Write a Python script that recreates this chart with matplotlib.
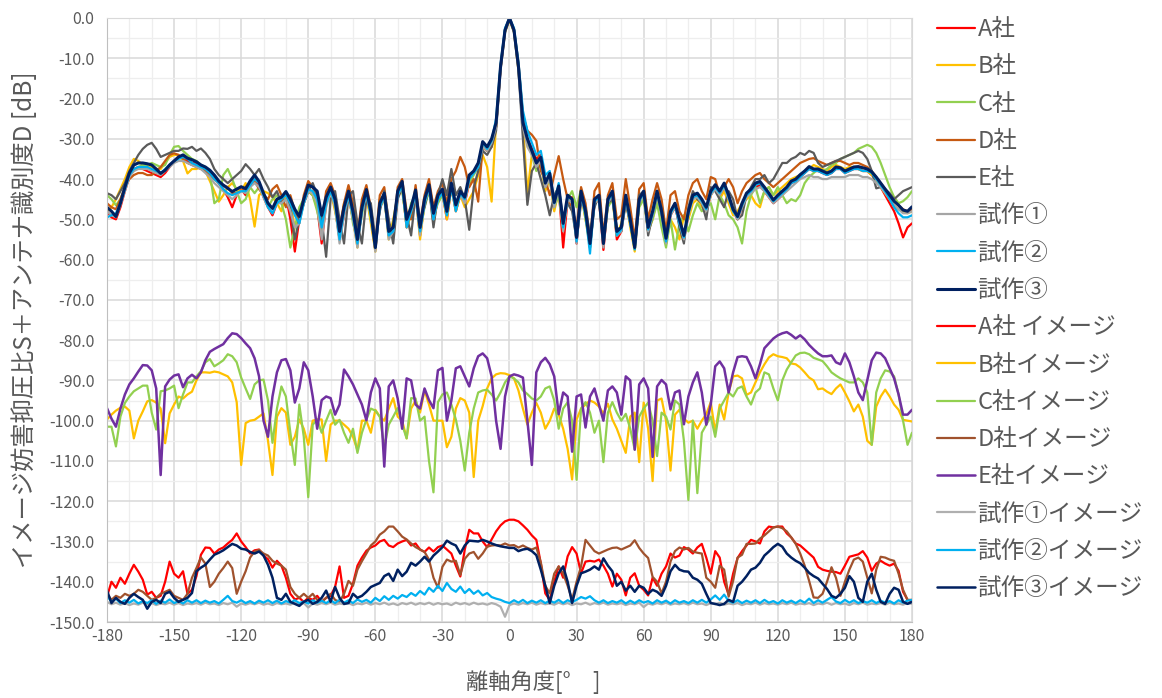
import numpy as np
import matplotlib.pyplot as plt
from matplotlib.ticker import MultipleLocator, FuncFormatter

plt.rcParams['font.family'] = ['Noto Sans CJK JP', 'DejaVu Sans']
plt.rcParams['axes.unicode_minus'] = False

# off-axis angle [deg], 2 degree steps
angles = np.arange(-180, 181, 2)

# --- co-polar patterns (S + D) ---
a_sha = [
    -48, -49.5, -50, -47, -43, -39.5, -37.5, -37, -37.5, -38,
    -38.5, -39, -39.5, -38.5, -37, -35.5, -34.5, -34.5, -35.5, -36,
    -36, -36.5, -37.5, -38.5, -39.5, -41, -42.5, -44.5, -47, -44,
    -42.5, -44, -41.5, -40, -41.5, -44.5, -47, -49, -46, -45.5,
    -44, -50, -58, -50, -46, -43, -44, -47, -56, -46,
    -43, -47, -55, -49, -44, -50, -56, -48, -43.5, -50,
    -57.5, -47, -44.5, -54, -54, -44.5, -42, -52, -48, -44,
    -54, -46, -42.5, -50, -45, -43.5, -50, -42, -48, -44,
    -46, -41, -38.5, -37, -32, -33, -31, -27, -12.5, -3,
    0, -3, -12, -25, -30, -32.5, -35, -34, -42, -39,
    -47, -42.5, -57, -45, -44.5, -56, -44, -49, -57, -46,
    -45, -57.6, -46, -44, -55, -53, -45, -51, -57, -46,
    -44, -53, -49, -44, -49, -56, -49, -47, -51, -55,
    -49, -45, -44, -46, -48, -44, -42, -44, -42, -45,
    -48, -50, -47, -44.5, -43, -42, -41.5, -43, -44.5, -46,
    -45, -44, -42.5, -41, -40.5, -39.5, -38.5, -37.5, -38, -38,
    -38.5, -39, -38.5, -37.5, -37.5, -38.5, -38, -37.5, -37.5, -38,
    -38, -39, -40, -42, -44, -46, -48, -51, -54.5, -52,
    -51]

b_sha = [
    -48, -47, -45, -42.5, -40, -37, -35, -35.5, -36.5, -37,
    -37, -37.5, -37.5, -36, -34.5, -34, -34, -35.5, -38.6, -37.5,
    -37.5, -37, -38, -40.5, -43, -45.6, -44, -42, -41, -42.5,
    -43, -41, -45, -51.8, -44, -43, -43.5, -44.5, -46, -48,
    -44, -46, -52, -50, -45, -42.5, -44, -46, -53, -45,
    -43, -48, -54, -46, -44, -50, -57, -46, -44, -51,
    -58, -45, -44, -55, -50, -44, -42, -52, -49, -43.5,
    -55, -46, -42, -51, -45, -43, -50, -42, -48, -44,
    -47, -45, -43, -39, -34, -37, -45.6, -26, -12.5, -3.5,
    -0.5, -3.5, -13, -26, -43.5, -34, -37, -36, -43, -40,
    -48, -43, -52, -45, -46, -55, -44, -50, -57, -46,
    -45, -55, -46, -44, -54, -51, -45, -52, -58, -46,
    -44, -53, -50, -45, -47, -56, -50, -52, -55, -49,
    -50, -46, -45, -47, -48, -44, -42, -45, -43, -46,
    -49, -48, -46, -45, -44, -46, -47, -43, -42, -44,
    -43, -42, -41, -40, -39.5, -39, -38, -37.5, -36.5, -37,
    -37.5, -38, -37, -36.5, -37, -37.5, -37, -37, -37.5, -38,
    -38, -39, -40, -42, -43.5, -45, -46.5, -47.5, -48, -48.5,
    -48]

c_sha = [
    -44, -45, -46.5, -45, -42, -39, -38, -37, -36.5, -36.5,
    -36, -36.5, -37, -36.5, -34, -32, -31.8, -33, -34, -35,
    -35.5, -36.5, -37, -38.5, -46, -45, -39, -37.5, -40, -43,
    -46, -45, -42, -43.5, -42, -44, -47, -45, -44, -46,
    -50, -57, -52, -47, -45, -43, -44, -48, -53, -46,
    -43, -47, -55, -48, -43, -51, -55, -49, -42, -50,
    -56, -47, -45, -54, -51, -44, -43, -51, -46, -44,
    -53, -47, -43, -49, -46, -44, -49, -42, -47, -44,
    -45, -41, -39, -37, -32, -33, -31, -27, -12, -3,
    0, -3, -12, -26, -31, -34, -38, -36, -42, -40,
    -47, -44, -52.5, -45, -43, -47, -42.5, -50, -55, -46,
    -45, -56, -47, -45, -54, -52, -46, -50, -56, -47,
    -45, -53, -50, -46, -52, -57, -50, -57.5, -51, -49,
    -53, -49, -46, -48, -47, -46, -50, -44, -46, -49,
    -50, -52, -56, -48, -44, -42, -46, -43, -42, -44,
    -42, -44, -46, -45, -45.5, -44, -41, -39.5, -38.5, -37.5,
    -38, -37.5, -36.5, -36, -35, -34.5, -34, -33.5, -32.5, -32,
    -31.5, -32, -33.5, -36, -39, -42, -44.5, -46, -45.5, -44.5,
    -43]

d_sha = [
    -46, -47, -47.5, -45, -42, -40, -39, -38.5, -38.5, -39,
    -39, -38, -37, -35.5, -34, -33.6, -34, -35, -36, -36.5,
    -37, -37.5, -38, -39, -40, -41, -41.5, -42, -43.5, -43.5,
    -43, -42, -41, -40.5, -42.5, -44, -45, -42.5, -41.5, -44,
    -47, -44, -48, -51, -44, -40.5, -42, -45, -51, -43,
    -41, -44, -52, -46, -41.5, -46, -54, -45, -41.5, -47,
    -56, -44, -42, -51, -53, -42, -40, -48, -50, -41.5,
    -51, -44, -40, -47, -43, -41, -46, -40, -38, -34.5,
    -37, -42, -40, -45.6, -32, -33, -32, -27, -12, -3,
    0, -3, -11, -24, -28, -29, -30.5, -38, -40, -44,
    -39, -34.3, -40, -45, -47, -52, -42, -46, -55, -43,
    -41, -54, -44, -41, -50, -49, -40, -47, -55, -42.5,
    -41, -50, -45, -41, -45, -53, -44, -43, -48, -50,
    -44, -41, -40, -43, -45, -39.5, -40, -44, -42, -40,
    -42, -46, -43, -41, -40, -39, -38.5, -40, -41, -42,
    -41, -40, -39, -38, -37, -36, -35.5, -35, -34.8, -35.5,
    -36, -36.5, -36, -35.5, -35.5, -36, -36.5, -36, -36, -36.5,
    -37, -38, -39.5, -41, -42.5, -44, -45.5, -46.5, -47.5, -48,
    -47.5]

e_sha = [
    -43.5, -44, -45, -43, -41, -38, -36, -34, -32.5, -31.5,
    -31, -32.5, -34.5, -34, -33.5, -33, -33, -32.4, -32.5, -32,
    -33, -32.4, -33.5, -35, -37.5, -39, -40, -41, -40, -39,
    -38, -36.3, -37.5, -39, -37.5, -40, -42, -44.5, -43, -46,
    -45, -47, -55, -50, -46, -43, -41, -44, -50, -59.3,
    -45, -43, -50, -56, -44, -43, -51, -56, -45, -46,
    -55, -48, -43, -50, -56, -45, -42, -49, -54, -44,
    -50, -47, -42, -52, -44, -40, -44, -37.5, -44, -42,
    -45, -52.6, -42, -38, -33, -34, -32, -28, -13, -3.5,
    -0.3, -3.5, -13, -30, -46.4, -38, -36, -40, -44, -49,
    -44, -42, -50, -46, -48, -55, -46, -47, -54, -47,
    -44, -55, -46, -45, -52, -53, -46, -51, -56, -44,
    -43, -54, -49, -44, -47, -55, -49, -46, -52, -56,
    -47, -43, -45, -46, -50, -42, -43, -45, -47, -43,
    -45, -50, -49, -44, -42, -40, -40, -39, -41, -40,
    -38, -36, -36, -35, -34.5, -33.5, -34, -33, -33.5, -36,
    -37, -36.5, -36, -35.5, -35, -34.5, -34, -33.5, -33, -33.5,
    -35, -38, -42.3, -42, -42.5, -43.5, -45, -44, -43, -42.5,
    -42]

proto1 = [
    -48, -49, -49.5, -46.5, -43, -39.5, -38, -37.5, -37.5, -37.5,
    -38, -38.5, -39, -38, -37, -36, -35.5, -35.5, -36, -36.5,
    -37, -37.5, -38.5, -39.5, -41, -42, -43, -44, -45, -44,
    -43, -43.5, -42, -41, -42, -44.5, -47, -48.5, -46, -46,
    -45, -48, -52, -51, -46, -43, -43.5, -46, -55, -47,
    -43, -47, -56, -49, -44, -50, -57, -48, -44, -49,
    -58, -47, -44.5, -55, -53, -44, -42, -51, -48, -44,
    -54, -46, -42.5, -50, -45, -43.5, -49, -42, -47, -44,
    -46, -40, -38.5, -37, -32, -33, -31, -27, -12.5, -3,
    0, -3, -12.5, -27, -32, -34, -37, -35.5, -42, -40,
    -47, -42.5, -53, -45, -46, -56, -44, -49, -57, -46,
    -45, -57, -46, -44, -54, -53, -45, -51, -57, -46,
    -44, -53, -49, -44, -49, -56, -49, -47, -51, -55,
    -49, -45, -44.5, -46, -48, -44, -42.5, -44, -42, -45,
    -48, -50, -47, -44.5, -43.5, -42.5, -42, -43, -44.5, -46,
    -45, -44, -43, -42, -41, -40, -39.5, -39, -39.5, -39.5,
    -40, -40, -39.5, -39.5, -39.5, -39.5, -39, -39, -39, -39.5,
    -39.5, -40, -41, -42, -43.5, -45, -46.5, -47.5, -48.5, -48.5,
    -48]

proto2 = [
    -49.5, -49, -48.5, -46, -42.5, -39, -37.5, -37, -37, -37,
    -37.5, -38, -38.5, -37.5, -36.5, -35.5, -35, -34.5, -35, -36,
    -36.5, -37, -37.5, -38.5, -40, -41, -42.5, -43.5, -44, -43.5,
    -43, -43, -41.5, -40, -41, -44, -47, -48.5, -46, -45,
    -44, -46, -49, -51, -46, -42.5, -43, -45, -52, -46,
    -43, -46, -55, -48, -44, -49, -56, -48, -43.5, -49,
    -57, -47, -44, -54, -53, -44, -41.5, -52, -48, -43.5,
    -53, -46, -42, -50, -45, -43.5, -49, -42, -48, -43.5,
    -45, -40, -38.5, -37, -31, -32.5, -30.5, -25, -11.5, -2.5,
    0, -2.5, -11, -23, -28, -31, -34, -33, -39, -38,
    -46, -41, -52, -44.5, -45, -55.5, -43.5, -49, -58.5, -45.5,
    -44.5, -56, -45.5, -43.5, -54, -52.5, -44.5, -51, -57.5, -45.5,
    -43.5, -52.5, -48.5, -43.5, -48.5, -55.5, -48.5, -46.5, -51, -54.5,
    -48.5, -44.5, -44, -45.5, -47.5, -43.5, -42, -43.5, -41.5, -44.5,
    -48, -49.5, -46.5, -44, -43, -41.5, -41, -42.5, -44, -45.5,
    -44.5, -43.5, -42.5, -41, -40.5, -39.5, -38.5, -37.5, -38, -38,
    -38.5, -39, -38.5, -37.5, -37.5, -38.5, -38, -37.5, -37.5, -38,
    -38, -38.5, -40, -41.5, -43, -45, -47, -48.5, -49.5, -49.5,
    -49]

proto3 = [
    -47, -48, -49.3, -46, -42, -38.5, -36.5, -36, -36, -36.2,
    -36.5, -37.5, -38.6, -37.8, -36.5, -35.5, -34.5, -34, -34.8, -35.2,
    -35.7, -36.5, -37, -37.8, -39, -40.5, -41.5, -42.3, -43.1, -42.5,
    -41.9, -42.4, -40.5, -39, -40.6, -43.5, -46, -47.3, -45, -44.5,
    -43.1, -45, -47.5, -49.3, -45, -41.5, -42, -43, -49, -44.5,
    -42, -45, -53, -47, -43, -48, -55, -47, -42.6, -48,
    -57, -46, -43.5, -53, -52, -43, -40.6, -50, -47, -42.7,
    -52, -45, -41.4, -48.5, -44, -42.5, -48, -41, -46.4, -43,
    -44.5, -39, -38, -36, -30.7, -32, -30, -26, -12, -3,
    0, -3, -12, -26, -30, -33, -36, -34.6, -41, -38.6,
    -45.8, -41.7, -51, -44, -45, -54.5, -43, -48, -56, -45,
    -44, -56, -45, -43, -53, -52, -44, -50, -57, -45,
    -43, -52, -48, -43, -48, -54.7, -48, -46, -50, -54,
    -48, -44, -43.5, -45, -47, -43, -41.4, -43, -41, -44,
    -47.5, -49.3, -46, -43.5, -42.5, -41, -40.6, -42, -43.5, -45.2,
    -44, -43, -42, -40.5, -40, -38.9, -38, -36.9, -37.5, -37.5,
    -38, -38.5, -38, -37, -37.2, -38, -37.5, -37, -36.9, -37.2,
    -37.5, -38.2, -39.5, -41, -42.5, -44, -45.5, -46.5, -47.7, -48,
    -46.9]

# --- image interference patterns ---
a_img = [
    -143.7, -140, -141.5, -139, -140.5, -138, -135.8, -137.5, -139.5, -143.2,
    -142.5, -144, -143.5, -140, -135, -138, -139, -137.4, -143, -142,
    -138.6, -133.3, -131.5, -131.6, -133, -132, -131.5, -130.5, -129.6, -128,
    -130, -131.4, -133, -132.2, -132, -133.5, -134.4, -136.5, -134.8, -136,
    -139, -143, -144.4, -144, -145, -144, -144.5, -143.5, -145, -144,
    -143.5, -141.3, -136.2, -144, -143.5, -140.5, -136, -134, -132.3, -131.5,
    -131, -130, -129.6, -131, -131.4, -130.5, -130, -129.6, -131, -130.5,
    -132, -132.6, -131.5, -132.5, -131.4, -131, -132, -133, -136, -138.7,
    -132, -127.1, -128, -128, -130, -131.4, -129.5, -127.5, -126, -125,
    -124.6, -124.6, -125, -126, -127.1, -128.5, -129.6, -135.4, -142.9, -144.5,
    -140, -136.2, -139, -133.7, -131.4, -133, -137.9, -135, -134.8, -135,
    -134.5, -136, -138, -141.2, -138, -139.5, -143.4, -139, -137.9, -141,
    -142, -143.4, -139, -141, -138, -136.2, -133, -134, -133.5, -131.4,
    -132, -133, -131.5, -130.6, -134, -138, -132.4, -134, -140, -143.2,
    -138, -134.1, -132.4, -131, -129.6, -130, -130.5, -127.5, -126.3, -126.5,
    -126.3, -126.3, -128, -129, -130.5, -131, -132, -133, -134, -136.3,
    -137, -137.3, -137.5, -137.6, -138, -136, -133.8, -133.5, -133.2, -132.4,
    -134, -137.3, -135.5, -134.8, -135.5, -136, -135.5, -137.3, -142.5, -144.5,
    -144.8]

b_img = [
    -99.7, -98.5, -97.5, -96.8, -96.5, -97.5, -104.4, -100, -97.7, -95.2,
    -94.9, -95.5, -97, -105.6, -98.2, -96, -94, -94.5, -93.5, -92.8,
    -90, -88, -88, -88.1, -87.8, -88, -88.5, -89, -90.5, -95.4,
    -111, -100.6, -100, -99.8, -99, -98.2, -105, -113.5, -99, -96.9,
    -98, -106, -104, -99.7, -102, -106, -100, -99.7, -99.7, -110,
    -101, -100, -100, -101, -102, -104, -107.3, -100, -100, -103,
    -97.3, -99, -100, -97, -94.4, -99, -100, -104.4, -97, -95,
    -98, -92.5, -96, -100, -100, -100, -106.6, -104, -97, -94.4,
    -95, -98, -114, -100, -96.4, -92, -89.5, -88.5, -88.2, -88.3,
    -88.7, -89.5, -92.5, -97, -101, -98, -95.6, -98, -102, -100,
    -97, -98.5, -102, -107, -114.6, -99.7, -97, -96, -95, -95.5,
    -96.5, -98.2, -95.8, -99.7, -102, -105, -108, -99, -98, -110.3,
    -95.5, -102, -115, -95, -94.5, -100, -112.4, -98.5, -97.3, -99.5,
    -100.5, -100, -102, -100, -98.4, -95.4, -102.8, -96, -99.7, -93,
    -89, -88.8, -89.5, -93.6, -93, -90.5, -88, -86, -84.3, -83.5,
    -84, -84.2, -84.5, -85.8, -86, -86.8, -88, -89.3, -90, -92.2,
    -92, -92.8, -93.4, -92, -91, -93, -95.2, -97.7, -96, -99,
    -105, -106, -96.5, -94, -92.3, -94, -96, -97.3, -99.8, -100,
    -100.2]

c_img = [
    -101.5, -101.5, -106.4, -99, -95.6, -94, -92.7, -92, -91.3, -91.3,
    -98, -102.2, -92.7, -92.5, -92, -91.3, -96.9, -93.5, -90.5, -90.5,
    -89, -87.7, -85.5, -84.7, -86.5, -85.8, -85, -83.5, -84, -85.5,
    -89.3, -92, -94.6, -91, -90, -89.8, -95, -105.5, -97, -91.5,
    -94, -103, -111, -96, -104, -119, -101, -99.7, -103, -100,
    -97.3, -101, -99.8, -103, -105.5, -102, -108, -103, -99.7, -97,
    -97.5, -99, -106.6, -101, -99, -96.9, -101, -104.4, -94.4, -94.5,
    -100, -99, -110, -117.8, -95.4, -93.5, -93, -96, -99.7, -105,
    -112.4, -103, -97, -93, -92.5, -92.3, -93.5, -95, -93, -90.5,
    -89, -89.5, -90.5, -92.5, -93.4, -94.5, -95, -94, -92, -91.5,
    -95, -102, -97, -95.4, -100, -114.7, -97, -95.4, -98, -103,
    -100, -110.3, -98, -95.4, -98, -100, -98.3, -102, -107.2, -99,
    -97, -95.5, -100, -108.8, -98, -99, -102.2, -95, -96, -105,
    -119.7, -100, -118, -103, -101, -99, -104, -97, -95, -93,
    -94, -92, -91.5, -94, -96, -93, -92, -88, -88.5, -92,
    -95, -90, -87.3, -85.5, -83.8, -83.2, -83.1, -83.5, -84.4, -84.8,
    -85.2, -86.5, -88, -88.8, -89.5, -90, -90.5, -90.5, -89.5, -90.5,
    -93, -106, -93, -89.5, -87.5, -87.8, -89, -93.5, -100, -106,
    -103]

d_img = [
    -143, -144.5, -143.5, -144, -143, -143.5, -143, -142, -142.5, -143.5,
    -144.5, -144, -143, -142.5, -142, -143.5, -144, -144.5, -143, -139,
    -136.6, -134, -135.5, -141.3, -140, -138, -136.6, -135, -136.6, -143,
    -140, -137.4, -134, -132.5, -132.1, -133, -133.5, -134.8, -135.5, -136,
    -137, -141.3, -143, -144, -143, -144, -143, -144.5, -145, -144,
    -143, -144.5, -145, -143, -139.8, -141, -137, -134.9, -133, -131,
    -130, -128.3, -127.5, -126.3, -126.3, -127.5, -128.8, -129.5, -130.5, -131.4,
    -132, -132.6, -134.5, -139, -141.5, -136.3, -134.5, -135, -134.8, -138.3,
    -134.3, -133, -132.6, -134.3, -133, -131.3, -131, -130.9, -131, -130.5,
    -131, -130.9, -131.5, -131, -131.6, -132, -131.5, -135.2, -141, -142.9,
    -138, -136.2, -138, -141, -144.5, -140, -136.2, -129.6, -131, -132.4,
    -133, -132.5, -132, -131.6, -131.5, -132, -131.5, -131, -129.7, -131.6,
    -133, -134.1, -138.8, -140, -142.9, -140, -135, -132.4, -131.5, -132,
    -131.6, -132.5, -132.8, -133, -139, -140, -141.5, -136, -137, -143.7,
    -139.8, -134, -133.3, -130.6, -130.6, -130.5, -129.3, -128.5, -127.5, -126.5,
    -126.3, -126.7, -127.5, -129, -130.6, -133, -136, -139.8, -143.9, -144,
    -143, -140, -136.4, -139, -143.5, -140, -137, -134.5, -134, -135,
    -139, -142.9, -137, -133.8, -134, -134.5, -134.8, -138, -142, -144.5,
    -144.5]

e_img = [
    -96.9, -99.5, -101.5, -97, -93.5, -91, -89.5, -87.8, -86.2, -86.3,
    -87.5, -92, -113.5, -91.5, -89.8, -88.8, -88.5, -91.7, -89.5, -88.6,
    -89.5, -88, -85, -82.9, -82.2, -81.6, -81, -79.5, -78.3, -78.5,
    -79.5, -80.8, -82, -84.5, -89, -100, -104, -94, -88, -85,
    -84.7, -87.5, -95.5, -92, -85.5, -87.5, -94, -102, -94.9, -94,
    -94.4, -98.5, -96, -87.3, -89, -91, -93.5, -96, -99.9, -93,
    -89.5, -92, -111.4, -91.5, -90, -94.5, -102, -89.5, -90, -96,
    -97, -92, -94.9, -96.9, -87.5, -86.9, -100, -95, -87, -86.5,
    -89, -91.5, -87, -84, -83.3, -84.5, -89, -100, -107, -94,
    -89, -88.5, -88.8, -89.3, -100, -111, -88, -85.5, -84.4, -86,
    -89, -98.4, -93, -94, -107.7, -94, -93.5, -101.7, -94, -92,
    -96, -100, -92.5, -91.5, -93, -98.5, -89, -90, -107.2, -91,
    -89.5, -92, -109, -91.5, -89.9, -91, -97.2, -93, -92.5, -100.9,
    -94, -90.5, -88, -93, -101, -96, -86.5, -85.3, -87, -93,
    -88, -84.2, -84, -84.2, -86.5, -89.5, -86, -82, -80.8, -79.6,
    -78.8, -78.3, -78, -78.7, -79.6, -78.8, -79.8, -81.2, -82.3, -83.3,
    -84, -84, -83.8, -85.5, -86, -83.3, -85.5, -89, -93, -94.9,
    -90, -85, -83.1, -83.3, -84.5, -87, -89.5, -93.5, -98.5, -98.5,
    -97.3]

proto1_img = [
    -145, -145.6, -145.2, -145.7, -145.3, -145.8, -145.4, -145.7, -145.2, -145.6,
    -145.3, -145.8, -145.4, -145.6, -145.2, -145.7, -145.3, -145.8, -145.4, -145.6,
    -145.3, -145.7, -145.2, -145.6, -145.4, -145.8, -145.3, -145.6, -145.2, -146.2,
    -145.4, -145.7, -145.3, -145.6, -145.2, -145.7, -145.4, -145.8, -145.3, -145.6,
    -145.4, -145.7, -145.2, -145.6, -145.3, -146.4, -145.4, -145.7, -145.3, -145.6,
    -145.2, -145.7, -145.4, -145.6, -145.3, -145.8, -145.4, -145.6, -145.2, -145.7,
    -145.3, -145.6, -145.2, -145.7, -145.4, -145.8, -145.3, -145.6, -145.2, -145.7,
    -145.3, -145.6, -145.2, -145.7, -145.3, -145.6, -145.4, -145.8, -145.2, -145.6,
    -145.3, -145.7, -145.2, -145.6, -145.4, -145.7, -145.3, -145.6, -146.2, -148.7,
    -145.8, -145.4, -145.7, -145.3, -145.6, -145.2, -145.7, -145.3, -145.6, -145.4,
    -145.7, -145.2, -145.6, -145.3, -145.8, -145.4, -145.6, -145.2, -145.7, -145.3,
    -145.6, -145.2, -145.7, -145.4, -145.6, -145.3, -145.8, -145.4, -145.6, -145.2,
    -146.3, -145.4, -145.7, -145.3, -145.6, -145.2, -145.7, -145.4, -145.6, -145.3,
    -145.7, -145.2, -145.6, -145.4, -145.8, -145.3, -145.6, -145.2, -145.7, -145.4,
    -145.6, -145.3, -145.8, -145.4, -145.6, -145.2, -145.7, -145.3, -145.6, -145.4,
    -145.7, -145.3, -145.6, -145.2, -145.7, -145.4, -145.6, -145.3, -145.8, -145.4,
    -145.6, -145.2, -145.7, -145.3, -145.6, -145.4, -145.8, -145.3, -145.6, -145.2,
    -145.7, -145.4, -145.6, -145.3, -145.7, -145.2, -145.6, -145.4, -145.7, -145.3,
    -145.5]

proto2_img = [
    -143.5, -145, -144.2, -145.3, -144.6, -145.2, -144.5, -145.4, -144.8, -145.3,
    -144.6, -145.5, -144.7, -145.2, -144.4, -145.3, -144.8, -145.4, -144.6, -145.2,
    -144.6, -145.3, -144.7, -145.2, -144.8, -145.4, -144.5, -143.5, -144.8, -145.2,
    -144.6, -145.3, -144.8, -145.4, -144.7, -145.2, -144.6, -145.3, -144.7, -145.4,
    -144.8, -145.2, -144.6, -145.3, -144.9, -145.4, -144.6, -145.2, -144.7, -145.3,
    -144.6, -145.3, -144.5, -145.2, -144.6, -145.3, -144.4, -145, -144.5, -145.2,
    -144, -144.8, -143.6, -144.5, -143.5, -144.2, -143.3, -143.8, -142.8, -143.5,
    -142.3, -143.2, -141.5, -142.5, -141, -142.3, -140.3, -141.8, -142.5, -141.2,
    -142.8, -141.8, -143, -142.2, -143.4, -142.8, -143.8, -144.2, -144.5, -145,
    -145.3, -144.6, -145.2, -144.5, -145.3, -144.7, -145.2, -144.6, -145.3, -144.7,
    -145.2, -144.5, -145.3, -144.6, -145.1, -144.5, -143.8, -144.2, -143.6, -144.6,
    -145.2, -144.6, -145.3, -144.8, -145.2, -144.6, -145.4, -144.7, -145.3, -144.6,
    -145.2, -144.8, -145.4, -144.6, -145.2, -144.7, -145.4, -144.6, -145.2, -144.8,
    -145.3, -144.6, -145.2, -144.5, -145.2, -144.4, -143.4, -144.5, -143.2, -144.8,
    -145.2, -144.6, -145.3, -144.7, -145.2, -144.6, -145.3, -144.5, -145.2, -144.8,
    -145.4, -144.6, -145.2, -144.7, -145.3, -144.6, -145.2, -144.2, -145.3, -144.6,
    -145.2, -144.5, -143.8, -144.9, -145.3, -144.5, -145.2, -144.6, -145.3, -144.8,
    -145.2, -144.6, -145.3, -144.7, -145.2, -144.8, -145.4, -144.6, -145.2, -144.7,
    -144.5]

proto3_img = [
    -142.2, -145.3, -144, -145, -145.5, -144, -143, -143.8, -144.5, -146.7,
    -145, -144.5, -145.3, -143, -142.5, -144, -145, -144.5, -144, -142.8,
    -137.4, -136.5, -135.8, -134.5, -133.3, -132.8, -132.2, -131.4, -130.6, -131,
    -131.8, -132, -132.6, -133, -132.5, -133.5, -135.8, -139, -144, -144.5,
    -143, -145, -145.5, -146, -145, -144.5, -145.5, -145, -144, -142.2,
    -145, -141.3, -144, -145.5, -145.3, -143, -144, -143.5, -142.5, -141.3,
    -140.8, -140.3, -138.6, -138, -139.8, -137, -138.6, -137.5, -135.3, -136,
    -135, -133.8, -135, -133.5, -132.5, -131.4, -129.8, -130.5, -131, -133,
    -131, -129.8, -129.9, -130, -129.6, -130, -130.5, -130.9, -131.2, -131.4,
    -131.6, -131.6, -132.4, -132, -131.8, -132.4, -133.4, -137, -141, -145.3,
    -141, -137.9, -136.2, -140, -145.3, -141, -137.9, -137.5, -137, -136.2,
    -137, -134.2, -136, -137.4, -141, -140, -142.2, -141, -142.5, -141,
    -141.5, -143, -142, -142.5, -143.5, -141, -137.4, -135.8, -137, -137.4,
    -137.5, -139, -139.5, -140.5, -143, -145.3, -145.5, -145.8, -145.5, -144.5,
    -145, -141, -140, -138.6, -137, -136.5, -135.3, -133.5, -132.5, -131.4,
    -130.6, -131.3, -133, -134, -134.8, -135.4, -136.5, -137.8, -138.6, -139.2,
    -140.5, -141.8, -143.5, -144, -143, -141.5, -138.6, -140, -144, -145,
    -140, -138, -142, -145, -145.5, -143, -141.5, -142, -145, -145.5,
    -145]

series = [
    ('A社', a_sha, '#FF0000', 1.6),
    ('B社', b_sha, '#FFC000', 1.6),
    ('C社', c_sha, '#92D050', 1.6),
    ('D社', d_sha, '#C65911', 1.6),
    ('E社', e_sha, '#5A5A5A', 1.6),
    ('試作①', proto1, '#A5A5A5', 1.6),
    ('試作②', proto2, '#00B0F0', 1.6),
    ('試作③', proto3, '#002060', 2.2),
    ('A社 イメージ', a_img, '#FF0000', 1.6),
    ('B社イメージ', b_img, '#FFC000', 1.6),
    ('C社イメージ', c_img, '#92D050', 1.6),
    ('D社イメージ', d_img, '#A0522D', 1.6),
    ('E社イメージ', e_img, '#7030A0', 1.8),
    ('試作①イメージ', proto1_img, '#AFAFAF', 1.6),
    ('試作②イメージ', proto2_img, '#00B0F0', 1.6),
    ('試作③イメージ', proto3_img, '#002060', 1.8),
]

fig = plt.figure(figsize=(11.62, 6.98), dpi=100)
ax = fig.add_axes([107 / 1162, 1 - 622 / 698, 805 / 1162, 604 / 698])

for label, vals, color, lw in series:
    ax.plot(angles, vals, color=color, lw=lw, label=label,
            solid_joinstyle='round', solid_capstyle='round')

ax.set_xlim(-180, 180)
ax.set_ylim(-150, 0)
ax.xaxis.set_major_locator(MultipleLocator(30))
ax.xaxis.set_minor_locator(MultipleLocator(10))
ax.yaxis.set_major_locator(MultipleLocator(10))
ax.yaxis.set_minor_locator(MultipleLocator(5))
ax.yaxis.set_major_formatter(FuncFormatter(
    lambda v, p: '0.0' if abs(v) < 1e-9 else f'{v:.1f}'))
ax.xaxis.set_major_formatter(FuncFormatter(lambda v, p: f'{v:.0f}'))

ax.grid(which='major', color='#D9D9D9', lw=1.1)
ax.grid(which='minor', color='#EEEEEE', lw=0.9)
ax.set_axisbelow(True)
ax.tick_params(which='both', length=0, labelcolor='#595959', labelsize=11.5)
ax.tick_params(axis='y', pad=9)
ax.tick_params(axis='x', pad=4)
for s in ax.spines.values():
    s.set_color('#D9D9D9')
ax.spines['bottom'].set_color('#BFBFBF')
ax.spines['left'].set_color('#BFBFBF')

fig.text(25 / 1162, 1 - 320 / 698, 'イメージ妨害抑圧比S＋アンテナ識別度D [dB]',
         rotation=90, ha='center', va='center', fontsize=17.5, color='#595959')
fig.text(533 / 1162, 1 - 682 / 698, '離軸角度[°\u3000]',
         ha='center', va='center', fontsize=16, color='#595959')

fig.legend(loc='upper left', bbox_to_anchor=(937 / 1162, 1 - 18 / 698),
           frameon=False, fontsize=17, labelcolor='#595959',
           handlelength=1.6, handletextpad=0.12, labelspacing=0.605,
           borderaxespad=0, borderpad=0)

fig.savefig('out.png', dpi=100)
